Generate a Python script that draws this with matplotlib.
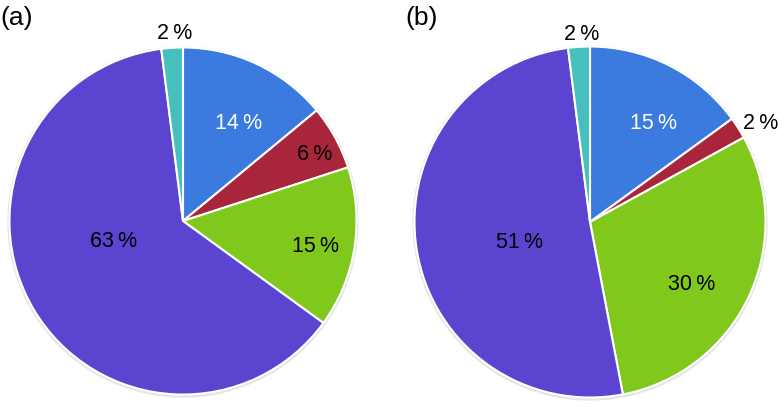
import numpy as np
import matplotlib
matplotlib.use('Agg')
import matplotlib.pyplot as plt

# slice values (%), clockwise from 12 o'clock
share_a = [14, 6, 15, 63, 2]
share_b = [15, 2, 30, 51, 2]
panel_labels = ['(a)', '(b)']

colors = ['#3b7be0', '#a8253b', '#80c81b', '#5b44cf', '#46bfbf']
text_colors = ['white', 'black', 'black', 'black', 'black']
label_radius_a = [0.65, 0.85, 0.78, 0.42, 1.08]
label_radius_b = [0.67, 1.12, 0.68, 0.42, 1.07]
label_shift_a = [4.5, 2, 2, 14, 1]   # degrees clockwise from slice middle
label_shift_b = [5.8, 2.4, 6.6, -7, 1]

W, H = 784, 413
fig = plt.figure(figsize=(W / 100, H / 100), dpi=100)


def draw_pie(values, cx, cy, r, radii, shifts, tag, tag_x):
    ax = fig.add_axes([(cx - r) / W, (H - cy - r) / H, 2 * r / W, 2 * r / H])
    # faint shadow ring
    ax.add_patch(plt.Circle((0, -0.006), 1.008, color='#e2e6e6', zorder=0))
    wedges, _ = ax.pie(values, colors=colors, startangle=90, counterclock=False,
                       radius=1, wedgeprops=dict(edgecolor='white', linewidth=1.5))
    for w, v, rr, sh, tc in zip(wedges, values, radii, shifts, text_colors):
        ang = np.deg2rad((w.theta1 + w.theta2) / 2 - sh)
        ax.text(rr * np.cos(ang), rr * np.sin(ang), f'{v}\u2009%', color=tc,
                ha='center', va='center', fontsize=15.5, fontfamily='Liberation Sans')
    ax.set_xlim(-1.02, 1.02)
    ax.set_ylim(-1.02, 1.02)
    ax.set_aspect('equal')
    ax.axis('off')
    fig.text(tag_x / W, 1 - 18 / H, tag, ha='center', va='center', fontsize=19,
             fontfamily='Liberation Sans')


draw_pie(share_a, 183, 221, 177, label_radius_a, label_shift_a, panel_labels[0], 17)
draw_pie(share_b, 590, 222, 179, label_radius_b, label_shift_b, panel_labels[1], 422)

fig.savefig('out.png', dpi=100)
